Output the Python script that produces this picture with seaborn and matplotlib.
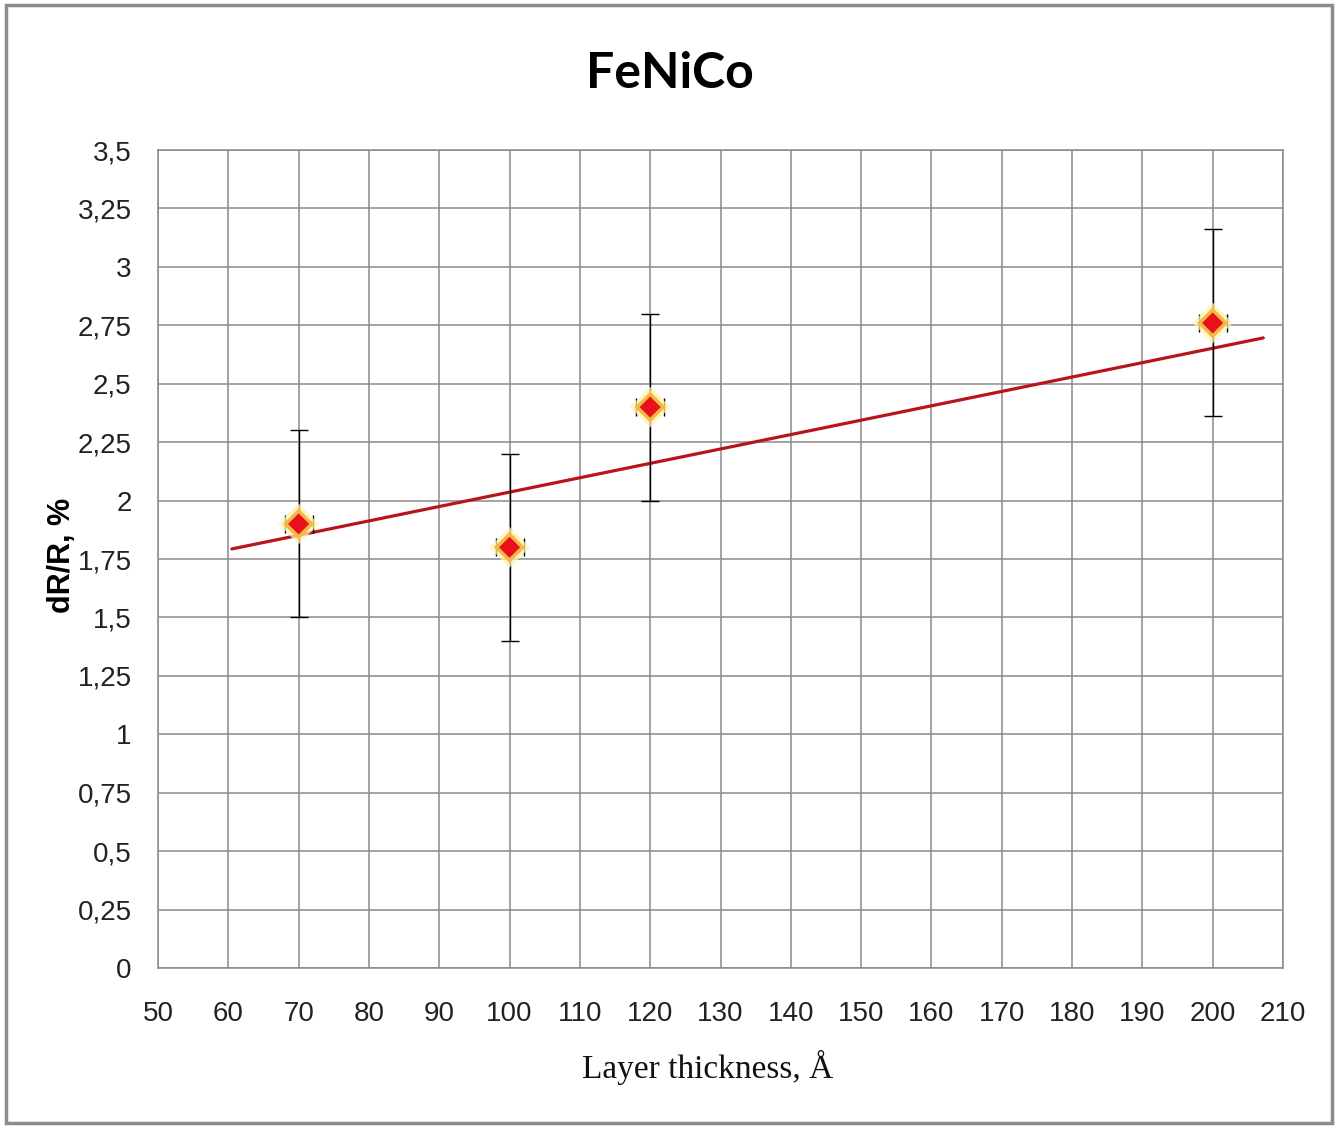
import matplotlib
matplotlib.use("Agg")
import matplotlib.pyplot as plt
from matplotlib.patches import Rectangle
from matplotlib.ticker import FuncFormatter, MultipleLocator
import numpy as np
import pandas as pd
import seaborn as sns

# ---- data ----
thickness = [70, 100, 120, 200]          # Å
dr_r = [1.9, 1.8, 2.4, 2.76]             # %
dr_r_err = [0.4, 0.4, 0.4, 0.4]
thickness_err = [2, 2, 2, 2]
trend_x = [60.5, 207.2]
trend_y = [1.793, 2.696]

title = "FeNiCo"
xlabel = "Layer thickness, Å"
ylabel = "dR/R, %"

df = pd.DataFrame({"x": thickness, "y": dr_r})
trend = pd.DataFrame({"x": trend_x, "y": trend_y})

sns.set_theme(style="whitegrid")
plt.rcParams["font.family"] = ["Liberation Sans", "DejaVu Sans"]

W, H = 1338, 1126
fig = plt.figure(figsize=(W / 100, H / 100), dpi=100)
fig.patch.set_facecolor("white")
ax = fig.add_axes([158 / W, 1 - 968 / H, (1283 - 158) / W, (968 - 150) / H])
ax.set_facecolor("white")

grid_c = "#8a8a8a"
ax.set_xlim(50, 210)
ax.set_ylim(0, 3.5)
ax.xaxis.set_major_locator(MultipleLocator(10))
ax.yaxis.set_major_locator(MultipleLocator(0.25))
fmt = FuncFormatter(lambda v, p: f"{v:g}".replace(".", ","))
ax.xaxis.set_major_formatter(fmt)
ax.yaxis.set_major_formatter(fmt)
ax.grid(True, color=grid_c, linewidth=1.1)
for s in ax.spines.values():
    s.set_color(grid_c)
    s.set_linewidth(1.1)
ax.tick_params(axis="both", which="major", direction="out", length=7, width=1.1,
               color=grid_c, labelsize=20, labelcolor="#222222")
ax.tick_params(axis="x", pad=17)
ax.tick_params(axis="y", pad=12)

# trend line
sns.lineplot(data=trend, x="x", y="y", ax=ax, color="#b8141c", linewidth=2.3,
             zorder=3, legend=False)

# error bars
ax.errorbar(thickness, dr_r, yerr=dr_r_err, xerr=thickness_err, fmt="none",
            ecolor="black", elinewidth=1.0, capsize=6.5, capthick=1.0, zorder=4)

# glowing diamond markers
sns.scatterplot(data=df, x="x", y="y", ax=ax, marker="D", s=430, color="#fff1b0",
                edgecolor="none", alpha=0.75, zorder=5, legend=False)
sns.scatterplot(data=df, x="x", y="y", ax=ax, marker="D", s=250, color="#f4b844",
                edgecolor="none", zorder=6, legend=False)
sns.scatterplot(data=df, x="x", y="y", ax=ax, marker="D", s=115, color="#e8101a",
                edgecolor="none", zorder=7, legend=False)

ax.set_xlabel("")
ax.set_ylabel("")

fig.text(670 / W, 1 - 74 / H, title, ha="center", va="center", fontsize=36,
         fontweight="bold", color="black", family=["Lato", "Liberation Sans", "DejaVu Sans"])
fig.text(708 / W, 1 - 1067 / H, xlabel, ha="center", va="center", fontsize=24,
         family=["Liberation Serif", "DejaVu Serif"], color="#111111")
fig.text(62 / W, 1 - 555 / H, ylabel, ha="center", va="center", rotation=90,
         fontsize=22, fontweight="bold", color="black",
         family=["Liberation Sans", "DejaVu Sans"])

fig.patches.append(Rectangle((6 / W, 3 / H), (W - 12) / W, (H - 8) / H,
                             transform=fig.transFigure, fill=False,
                             edgecolor="#8c8c8c", linewidth=2.5))

fig.savefig("out.png", dpi=100, facecolor="white")
